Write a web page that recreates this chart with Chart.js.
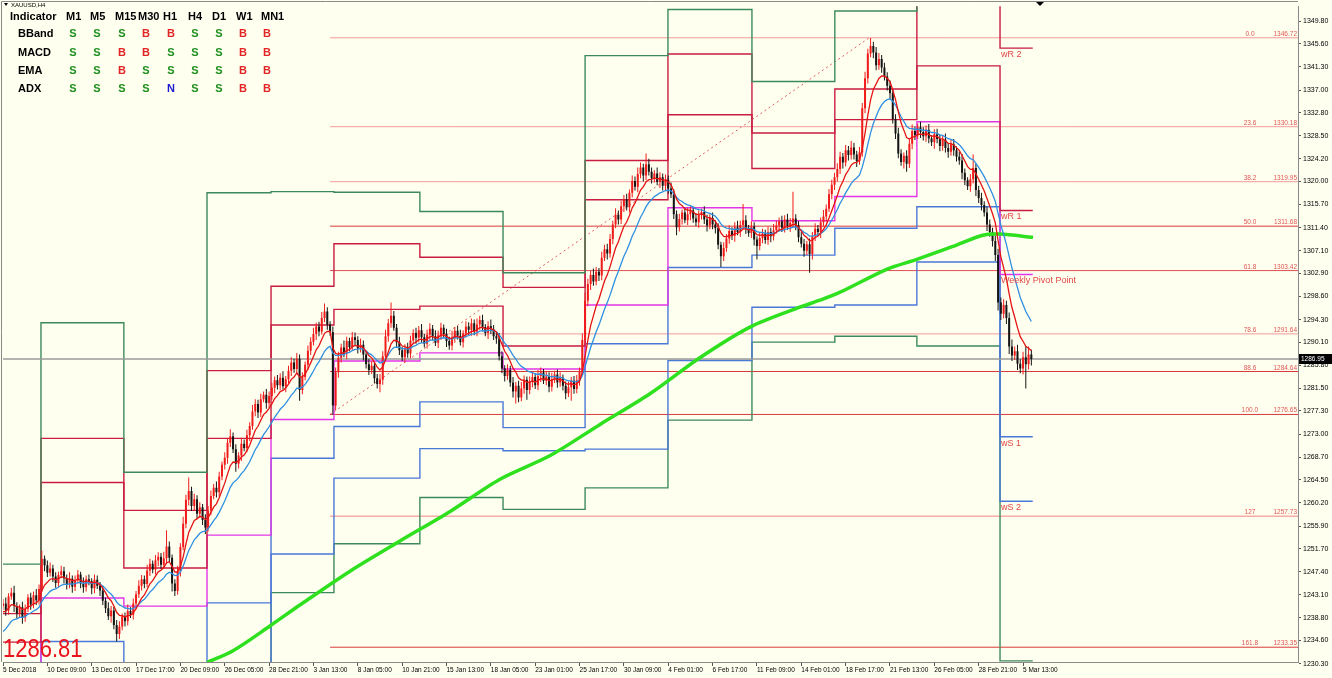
<!DOCTYPE html>
<html>
<head>
<meta charset="utf-8">
<title>XAUUSD,H4</title>
<script src="https://cdn.jsdelivr.net/npm/chart.js@4.4.1/dist/chart.umd.min.js"></script>
<style>
  html, body { margin: 0; padding: 0; background: #fffff0; overflow: hidden; }
  canvas { display: block; }
</style>
</head>
<body>
<canvas id="xauChart" width="1332" height="678"></canvas>
<script>
// XAUUSD H4: candles, EMAs, 200 MA, weekly pivots, Fibonacci levels, signal table

var firstOpen = 1241.0;
var closes = [
  1241.5,1240.2,1242.8,1243.5,1241.0,1239.6,1240.8,1238.9,1240.5,1242.6,1241.3,1243.0,1242.1,1244.2,
  1249.8,1248.6,1247.2,1248.0,1246.5,1245.3,1246.8,1247.5,1246.2,
  1245.0,1246.1,1244.6,1245.8,1246.9,1245.2,1244.5,1246.0,1245.6,1244.3,1245.9,1244.8,1243.9,
  1242.0,1240.6,1239.1,1240.2,1237.5,1235.8,1237.2,
  1239.0,1238.2,1240.1,1239.4,
  1241.5,1243.2,1244.8,1246.0,1245.1,1247.6,
  1248.9,1247.8,1249.5,1250.2,1248.7,1249.9,1252.1,1250.0,
  1245.2,1243.8,
  1247.5,1252.0,1256.3,1260.8,1262.4,
  1259.6,1260.9,1258.2,1259.4,1257.0,1255.6,
  1258.8,1261.5,1263.0,1262.2,1265.1,1267.3,1268.6,
  1271.4,1272.6,
  1270.2,1267.5,1269.0,1271.2,1270.4,1272.8,1274.5,
  1277.2,1278.6,1277.0,1279.5,1280.3,1278.8,1280.1,
  1281.6,1283.0,1282.1,1283.5,1281.9,1283.2,1284.8,
  1286.3,1285.1,1287.0,1281.2,1283.6,1285.9,
  1288.5,1290.2,1291.6,1293.0,1292.1,1294.6,1295.8,
  1293.4,1292.0,
  1278.3,
  1284.5,1287.2,1289.1,1288.0,
  1290.3,1289.2,1291.0,1290.5,1288.9,1289.6,
  1287.8,1286.0,1284.9,1285.7,1283.4,1282.3,1283.1,
  1287.5,1291.2,1293.6,1295.0,1292.8,
  1290.1,1288.6,1287.3,1288.9,1288.0,
  1290.4,1291.8,1290.9,1292.3,1291.0,1289.8,1291.5,1292.6,1291.2,
  1290.0,1291.4,1292.8,1291.6,1290.3,1289.5,1291.0,1292.2,1291.3,1290.1,1291.7,1293.0,1292.4,
  1293.6,1292.1,1293.4,1294.2,1292.9,1291.8,1293.1,1292.5,
  1291.2,1290.8,
  1287.5,1285.2,1283.8,1284.9,
  1282.6,1280.9,1282.0,1279.8,1281.5,1283.1,1281.2,1282.7,1283.6,
  1282.1,1283.8,1284.5,1282.9,1283.7,1281.8,1283.2,1284.1,1282.6,1283.5,
  1282.0,1280.6,1281.7,1282.9,1281.4,1283.0,1284.6,
  1290.5,1297.8,1300.9,1302.6,
  1301.4,1303.2,1302.5,
  1305.8,1307.4,1306.6,1309.3,
  1312.0,1313.8,1312.9,1315.4,1316.6,1315.2,1317.9,
  1320.1,1319.0,1321.4,1322.6,1321.1,1323.2,1321.8,1320.6,
  1321.5,1319.9,1320.8,1319.2,1320.3,1318.7,1317.6,
  1313.9,1311.5,1313.0,
  1314.2,1312.8,1313.9,1314.6,1313.1,1312.4,1313.8,1314.3,
  1312.9,1311.8,1313.2,1312.0,1311.3,
  1308.2,1306.1,1307.6,
  1309.4,1310.8,1309.9,1311.5,1310.6,1311.9,1312.8,1311.2,
  1310.4,1311.6,1309.2,1308.0,
  1309.5,1310.3,1309.1,1310.6,1309.8,1310.9,
  1311.8,1312.6,1311.4,1312.9,1311.7,1312.3,1313.1,1311.9,
  1309.6,1308.4,1307.1,1308.3,1306.5,
  1309.8,1311.2,1310.6,1312.4,1313.5,1314.9,
  1317.6,1319.4,1320.8,1322.3,
  1324.6,1323.5,1325.8,1324.9,1326.3,1325.0,1323.8,1325.4,
  1333.6,1339.2,
  1343.8,1345.2,1344.0,
  1341.6,1342.8,1341.2,
  1339.5,1337.8,1336.4,
  1331.6,1328.9,
  1325.2,1323.6,1324.8,1323.3,
  1327.0,1329.4,1328.6,1330.1,1329.2,
  1328.4,1329.6,1328.0,1327.3,1328.8,1327.9,1326.6,
  1327.8,1326.2,1325.5,1326.9,1325.8,1324.6,1323.9,
  1321.6,1320.2,1319.1,1320.4,1322.5,
  1318.4,1316.9,1315.6,1314.2,
  1312.0,1310.6,1308.9,1306.3,
  1297.5,
  1295.4,1297.0,1294.6,
  1289.3,1287.6,1288.4,1286.1,
  1285.2,1287.3,1286.0,1287.8,1286.95
];
var upWick = [
  0.8,1.1,0.6,0.9,1.3,0.7,0.5,1.0,0.8,0.6, 0.9,0.7,1.2,0.8,1.5,0.6,0.9,1.1,0.7,0.8,
  0.6,1.0,0.8,0.7,1.2,0.6,0.9,0.8,0.5,1.1, 0.7,0.9,0.6,1.0,0.8,0.7,0.9,0.6,1.1,0.8,
  0.7,0.9,1.0,0.6,0.8,1.2,0.7,0.9,0.6,1.0, 0.8,0.7,1.1,0.9,0.6,1.0,0.8,0.7,1.2,3.0,
  0.9,0.6,0.8,1.0,0.7,1.3,0.9,2.5,0.8,1.0, 0.7,0.9,0.6,1.1,0.8,1.0,0.7,1.2,0.9,0.6,
  1.0,0.8,1.3,0.7,0.9,0.6,1.1,0.8,1.0,0.7, 1.2,0.9,0.8,1.0,0.6,1.1,0.8,0.9,0.7,1.0,
  0.8,1.2,0.6,0.9,1.0,0.7,1.1,0.8,0.9,0.6, 1.0,0.8,1.2,0.7,0.9,1.1,1.5,0.8,0.6,1.0,
  0.9,1.1,0.7,1.3,0.8,0.6,1.0,0.9,0.7,1.2, 0.8,0.6,1.0,0.9,0.7,0.8,1.1,0.9,1.2,0.8,
  2.5,0.9,0.7,1.0,0.6,0.8,1.1,0.9,0.7,1.0, 0.8,1.2,0.6,0.9,1.0,0.7,1.1,0.8,0.9,0.6,
  1.0,0.8,1.2,0.7,0.9,1.1,0.6,1.0,0.8,0.9, 0.7,1.1,0.8,1.0,0.6,0.9,1.2,0.8,0.7,1.0,
  0.9,0.6,1.1,0.8,1.0,0.7,0.9,1.2,0.8,0.6, 1.0,0.8,0.7,1.1,0.9,0.6,1.0,0.8,1.2,0.7,
  0.9,1.0,0.6,0.8,1.1,0.7,0.9,1.0,0.8,1.2, 1.5,1.0,0.8,1.2,0.9,0.7,1.1,0.8,1.0,0.9,
  0.7,1.2,0.8,1.0,0.9,1.1,0.6,1.0,0.8,1.2, 0.9,0.7,2.0,1.0,0.8,0.6,1.1,0.9,0.7,1.0,
  0.8,1.1,0.9,0.7,1.0,0.6,0.9,1.2,0.8,0.7, 1.0,0.8,0.6,1.1,0.9,0.7,1.0,0.8,0.9,0.6,
  1.1,0.8,1.0,0.7,0.9,1.2,0.8,3.0,0.9,0.7, 1.0,0.8,0.6,1.1,0.9,0.7,1.0,0.8,1.2,0.9,
  0.7,1.0,0.8,1.1,0.9,5.0,0.8,0.7,1.0,0.9, 0.6,1.1,0.8,1.0,0.7,0.9,1.2,0.8,1.0,0.9,
  0.8,1.1,0.9,0.7,1.0,0.8,1.2,0.9,0.7,1.0, 1.0,1.2,0.9,1.5,0.8,1.0,1.1,0.7,0.9,0.8,
  1.0,0.7,0.9,1.1,0.8,0.6,1.0,0.9,1.2,0.8, 0.7,1.0,0.9,0.8,1.1,0.6,0.9,1.0,0.8,0.7,
  1.1,0.9,0.8,1.0,0.7,0.9,1.2,0.8,0.6,1.0, 2.5,0.9,0.8,1.0,0.7,1.1,0.9,0.8,1.0,1.2,
  0.9,1.1,0.8,1.0,1.3,0.9,1.2,0.8,1.0,2.0, 1.5,0.9
];
var dnWick = [
  0.7,1.0,0.8,0.6,1.1,0.9,0.7,1.2,0.8,0.6, 1.0,0.7,0.9,0.8,0.6,1.1,0.8,0.7,1.0,0.9,
  0.8,0.6,1.0,0.9,0.7,1.1,0.8,0.6,0.9,1.0, 0.8,0.7,1.1,0.9,0.6,1.0,0.8,0.9,0.7,1.2,
  0.8,1.4,0.9,0.7,1.0,0.8,0.6,0.9,1.1,0.7, 0.9,0.8,0.6,1.0,0.7,0.9,1.1,0.8,0.6,1.0,
  0.8,1.5,0.9,0.7,1.0,0.6,0.8,1.1,0.9,0.7, 1.0,0.8,0.9,1.2,0.7,0.9,0.6,1.0,0.8,0.7,
  0.9,1.1,0.8,0.7,1.5,0.9,1.0,0.6,0.8,1.1, 0.7,0.9,1.0,0.8,0.6,1.1,0.9,0.7,1.0,0.8,
  0.9,0.6,1.1,0.8,1.0,0.7,0.9,2.0,0.8,0.6, 1.0,0.8,0.7,1.1,0.9,0.6,0.8,1.0,0.7,1.65,
  0.8,1.0,0.9,0.7,1.1,0.8,0.6,1.0,0.9,0.7, 1.1,0.8,0.9,0.7,1.0,0.8,1.5,0.9,0.7,1.0,
  0.8,0.6,1.1,0.9,0.7,1.0,0.8,0.9,0.6,1.1, 0.8,1.0,0.7,0.9,1.1,0.8,0.6,1.0,0.9,0.7,
  1.1,0.8,0.9,1.0,0.7,0.6,1.0,0.8,0.9,1.1, 0.7,0.9,1.0,0.8,0.6,1.1,0.9,0.7,1.0,0.8,
  0.9,1.0,0.7,0.8,1.1,2.2,0.9,0.7,1.0,1.8, 0.8,1.0,0.7,0.9,1.1,0.6,0.8,1.0,0.9,0.7,
  1.0,0.8,0.9,1.1,0.7,2.5,0.9,0.8,1.0,0.7, 0.9,1.0,1.1,0.8,0.7,1.0,0.9,0.6,1.1,0.8,
  1.0,0.7,0.9,0.8,1.1,0.6,1.0,0.9,0.7,1.0, 0.8,1.1,0.9,0.7,1.0,0.8,0.6,1.1,0.9,0.8,
  1.0,0.7,0.9,1.5,0.8,1.0,0.6,0.9,1.1,0.8, 0.7,1.0,0.9,0.8,1.1,0.7,0.9,1.0,0.8,2.0,
  0.9,0.7,1.0,0.8,1.1,0.6,0.9,0.8,1.0,0.7, 0.9,1.1,2.5,0.8,1.0,0.7,0.9,1.1,0.8,0.6,
  1.0,0.8,0.9,0.7,1.1,0.8,1.0,0.9,0.7,1.1, 0.8,3.5,1.0,0.9,0.7,1.1,0.8,1.0,0.6,0.9,
  1.0,0.8,0.9,1.1,0.7,1.0,0.8,0.9,1.1,0.7, 0.8,0.9,1.0,0.7,1.1,0.9,0.8,1.0,0.7,0.9,
  1.1,0.8,1.0,0.9,0.7,1.2,1.5,0.8,1.0,0.9, 0.7,1.1,0.8,1.0,0.9,0.7,1.2,0.8,1.0,0.9,
  0.8,1.1,0.7,1.0,0.9,0.8,1.2,0.9,0.7,1.0, 0.8,1.1,0.9,1.0,0.7,1.2,0.9,1.0,1.1,1.5,
  1.2,0.9,1.1,1.4,1.0,0.8,1.2,0.9,1.1,4.5, 1.0,1.2
];

// moving averages: red and blue from the closes, green (long MA)
var redPeriod = 8, redSeed = 1239.5;
var bluePeriod = 16, blueSeed = 1235.6;
var greenBars = [73.6, 83, 96.3, 107.1, 125.2, 143.2, 161.3, 179.3, 197.4, 215.4, 233.4, 251.4, 269.5, 287.5, 294.7, 302, 319, 329.7, 342.7, 353.5, 359.7, 371.6];
var greenVals = [1230.5, 1232.7, 1237.3, 1241.2, 1247.5, 1253.1, 1258.6, 1264.6, 1269.0, 1274.8, 1280.5, 1287.2, 1292.9, 1296.6, 1297.9, 1299.4, 1303.7, 1305.5, 1307.9, 1310.0, 1310.2, 1309.6];

// weekly pivots, one value per week
var weekStarts = [0, 13.7, 43.6, 73.6, 96.7, 119.4, 150.4, 180.4, 210.0, 239.9, 270.2, 300.1, 329.7, 359.7];
var weekEnd = 371.5;
var r3 = [1248.8, 1293.7, 1265.9, 1317.9, 1318.1, 1318.0, 1314.4, 1303.0, 1343.4, 1352.0, 1338.6, 1351.7, 1365.0, 1356.7];
var r2 = [1239.6, 1272.2, 1258.8, 1284.8, 1300.5, 1308.4, 1305.9, 1300.3, 1323.9, 1343.7, 1329.0, 1337.2, 1357.3, 1344.8];
var r1 = [1234.3, 1264.0, 1248.1, 1272.2, 1293.3, 1296.2, 1296.8, 1289.4, 1316.6, 1332.4, 1322.4, 1331.5, 1341.5, 1314.6];
var pp = [1225.0, 1242.5, 1241.0, 1254.2, 1275.7, 1286.6, 1288.1, 1285.1, 1297.0, 1315.1, 1312.7, 1317.2, 1331.1, 1302.7];
var s1 = [1215.0, 1234.4, 1230.3, 1241.6, 1268.5, 1274.4, 1279.0, 1274.2, 1289.8, 1304.0, 1306.3, 1311.3, 1315.3, 1272.5];
var s2 = [1205.0, 1212.9, 1223.2, 1223.6, 1250.7, 1264.8, 1270.3, 1269.9, 1270.2, 1286.7, 1296.6, 1297.0, 1305.0, 1260.5];
var s3 = [1195.0, 1190.0, 1205.0, 1211.0, 1243.5, 1252.6, 1261.2, 1259.0, 1263.0, 1275.6, 1290.1, 1291.2, 1289.4, 1230.8];
var pivotNames = ['wR 2', 'wR 1', 'Weekly Pivot Point', 'wS 1', 'wS 2'];

// Fibonacci retracement
var fibNames = ['0.0', '23.6', '38.2', '50.0', '61.8', '78.6', '88.6', '100.0', '127', '161.8'];
var fibPrices = [1346.72, 1330.18, 1319.95, 1311.68, 1303.42, 1291.64, 1284.64, 1276.65, 1257.73, 1233.35];
var fibStartBar = 118;
var fibSwing = [{x: 118, y: 1276.65}, {x: 312.5, y: 1346.72}];

var lastPrice = 1286.95;
var bidPrice = '1286.81';

var xLabels = ['5 Dec 2018', '10 Dec 09:00', '13 Dec 01:00', '17 Dec 17:00', '20 Dec 09:00', '26 Dec 05:00',
  '28 Dec 21:00', '3 Jan 13:00', '8 Jan 05:00', '10 Jan 21:00', '15 Jan 13:00', '18 Jan 05:00', '23 Jan 01:00',
  '25 Jan 17:00', '30 Jan 09:00', '4 Feb 01:00', '6 Feb 17:00', '11 Feb 09:00', '14 Feb 01:00', '18 Feb 17:00',
  '21 Feb 13:00', '26 Feb 05:00', '28 Feb 21:00', '5 Mar 13:00'];
var barsPerLabel = 16;
var yTicks = [1349.80, 1345.60, 1341.30, 1337.00, 1332.80, 1328.50, 1324.20, 1320.00, 1315.70, 1311.40, 1307.10,
  1302.90, 1298.60, 1294.30, 1290.10, 1285.80, 1281.50, 1277.30, 1273.00, 1268.70, 1264.50, 1260.20, 1255.90,
  1251.70, 1247.40, 1243.10, 1238.80, 1234.60, 1230.30];

// signal table
var tableCols = ['M1', 'M5', 'M15', 'M30', 'H1', 'H4', 'D1', 'W1', 'MN1'];
var tableRows = ['BBand', 'MACD', 'EMA', 'ADX'];
var bbandSig = ['S', 'S', 'S', 'B', 'B', 'S', 'S', 'B', 'B'];
var macdSig = ['S', 'S', 'B', 'B', 'S', 'S', 'S', 'B', 'B'];
var emaSig = ['S', 'S', 'B', 'S', 'S', 'S', 'S', 'B', 'B'];
var adxSig = ['S', 'S', 'S', 'S', 'N', 'S', 'S', 'B', 'B'];

(function(){
  var FONT = '"Liberation Sans", Arial, sans-serif';
  var xMax = 467.2, yMin = 1230.6, yMax = 1352.6;

  function ema(src, period, seed) {
    var k = 2 / (period + 1), prev = seed;
    return src.map(function(v, i){ prev = prev + k * (v - prev); return {x: i, y: prev}; });
  }
  function stepData(vals) {
    var d = weekStarts.map(function(b, i){ return {x: b, y: vals[i]}; });
    d.push({x: weekEnd, y: vals[vals.length - 1]});
    return d;
  }
  function stepLine(vals, color) {
    return {type: 'line', data: stepData(vals), borderColor: color, borderWidth: 1.4,
      pointRadius: 0, stepped: true, order: 6};
  }

  var opens = closes.map(function(c, i){ return i === 0 ? firstOpen : closes[i - 1]; });
  var candleColors = closes.map(function(c, i){ return c >= opens[i] ? '#f01c1c' : '#141414'; });
  var wickData = closes.map(function(c, i){
    return {x: i, y: [Math.min(opens[i], c) - dnWick[i], Math.max(opens[i], c) + upWick[i]]};
  });
  var bodyData = closes.map(function(c, i){ return {x: i, y: [opens[i], c]}; });

  var fibColors = ['#f29a9a', '#f29a9a', '#f29a9a', '#d83a3a', '#e05050', '#f29a9a', '#d83a3a', '#d83a3a', '#f08080', '#d83a3a'];
  var datasets = [];
  fibPrices.forEach(function(p, i){
    datasets.push({type: 'line', data: [{x: fibStartBar, y: p}, {x: xMax, y: p}], borderColor: fibColors[i],
      borderWidth: 1, pointRadius: 0, order: 8});
  });
  datasets.push({type: 'line', data: fibSwing, borderColor: '#e06060', borderWidth: 1, borderDash: [2, 3], pointRadius: 0, order: 8});
  datasets.push(stepLine(r3, '#3c8a5c'));
  datasets.push(stepLine(r2, '#c81c40'));
  datasets.push(stepLine(r1, '#c81c40'));
  datasets.push(stepLine(pp, '#e236e6'));
  datasets.push(stepLine(s1, '#4a78d6'));
  datasets.push(stepLine(s2, '#4a78d6'));
  datasets.push(stepLine(s3, '#3c8a5c'));
  datasets.push({type: 'line', data: [{x: 0, y: lastPrice}, {x: xMax, y: lastPrice}], borderColor: '#9a9a9a',
    borderWidth: 1.5, pointRadius: 0, order: 5});
  datasets.push({type: 'bar', data: wickData, backgroundColor: candleColors, grouped: false, maxBarThickness: 1, order: 3});
  datasets.push({type: 'bar', data: bodyData, backgroundColor: candleColors, grouped: false, maxBarThickness: 2.5,
    minBarLength: 1, order: 2});
  datasets.push({type: 'line', data: greenBars.map(function(b, i){ return {x: b, y: greenVals[i]}; }),
    borderColor: '#2ee01e', borderWidth: 3.5, pointRadius: 0, tension: 0.3, order: 1.5});
  datasets.push({type: 'line', data: ema(closes, bluePeriod, blueSeed), borderColor: '#2f8fe0', borderWidth: 1.3, pointRadius: 0, order: 1});
  datasets.push({type: 'line', data: ema(closes, redPeriod, redSeed), borderColor: '#e41414', borderWidth: 1.3, pointRadius: 0, order: 0});

  var overlay = {
    id: 'overlay',
    beforeDraw: function(chart){
      var c = chart.ctx;
      c.save(); c.fillStyle = '#fffff0'; c.fillRect(0, 0, chart.width, chart.height); c.restore();
    },
    afterDatasetsDraw: function(chart){
      var c = chart.ctx, xs = chart.scales.x, ys = chart.scales.y, a = chart.chartArea;
      c.save();
      // fib labels
      c.font = '6.5px ' + FONT; c.fillStyle = '#e05656'; c.textBaseline = 'bottom';
      fibPrices.forEach(function(p, i){
        var py = Math.round(ys.getPixelForValue(p));
        c.textAlign = 'center'; c.fillText(fibNames[i], 1250, py - 0.5);
        c.textAlign = 'right'; c.fillText(p.toFixed(2), a.right - 1, py - 0.5);
      });
      // pivot labels of the current week
      var last = weekStarts.length - 1;
      var lx = xs.getPixelForValue(weekStarts[last]) + 1;
      var labelVals = [r2[last], r1[last], pp[last], s1[last], s2[last]];
      c.font = '9px ' + FONT; c.fillStyle = '#e04646'; c.textAlign = 'left'; c.textBaseline = 'top';
      pivotNames.forEach(function(n, i){ c.fillText(n, lx, ys.getPixelForValue(labelVals[i]) + 2); });
      // big bid price
      c.save();
      c.translate(3, 657); c.scale(0.88, 1);
      c.font = '25px ' + FONT; c.fillStyle = '#e8141c'; c.textBaseline = 'alphabetic';
      c.fillText(bidPrice, 0, 0);
      c.restore();
      c.restore();
    },
    afterDraw: function(chart){
      var c = chart.ctx, ys = chart.scales.y, a = chart.chartArea;
      c.save();
      // frame
      c.strokeStyle = '#8a8a8a'; c.lineWidth = 1;
      c.beginPath(); c.moveTo(1.5, a.bottom); c.lineTo(1.5, 1.5); c.lineTo(a.right, 1.5); c.stroke();
      // last price box
      var py = Math.round(ys.getPixelForValue(lastPrice));
      c.fillStyle = '#000'; c.fillRect(a.right + 1, py - 5, 33, 10);
      c.fillStyle = '#fff'; c.font = '6.5px ' + FONT; c.textAlign = 'left'; c.textBaseline = 'middle';
      c.fillText(lastPrice.toFixed(2), a.right + 3, py);
      // chart shift marker
      c.fillStyle = '#000';
      c.beginPath(); c.moveTo(1036, 2); c.lineTo(1044, 2); c.lineTo(1040, 6); c.closePath(); c.fill();
      // title
      c.beginPath(); c.moveTo(4, 3); c.lineTo(8, 3); c.lineTo(6, 6); c.closePath(); c.fill();
      c.font = '6px ' + FONT; c.textBaseline = 'top'; c.fillText('XAUUSD,H4', 11, 2);
      // signal table
      var colX = [66, 90, 115, 138, 163, 188, 212, 236, 261];
      var sigX = [73, 97, 122, 146, 171, 195, 219, 243, 267];
      var rowY = [34, 53, 71, 89];
      var sigs = [bbandSig, macdSig, emaSig, adxSig];
      var sigColor = {S: '#1f8f1f', B: '#e22424', N: '#1a1ad0'};
      c.font = 'bold 11px ' + FONT; c.textBaseline = 'middle'; c.fillStyle = '#000'; c.textAlign = 'left';
      c.fillText('Indicator', 10, 17);
      tableCols.forEach(function(t, i){ c.fillText(t, colX[i], 17); });
      tableRows.forEach(function(r, j){
        c.fillStyle = '#000'; c.textAlign = 'left'; c.fillText(r, 18, rowY[j]);
        c.textAlign = 'center';
        sigs[j].forEach(function(s, i){ c.fillStyle = sigColor[s]; c.fillText(s, sigX[i], rowY[j]); });
      });
      c.restore();
    }
  };

  new Chart(document.getElementById('xauChart').getContext('2d'), {
    type: 'bar',
    data: {datasets: datasets},
    options: {
      responsive: false,
      animation: false,
      devicePixelRatio: 1,
      layout: {padding: {left: 3, top: 3, right: 0, bottom: 0}},
      plugins: {legend: {display: false}, tooltip: {enabled: false}},
      scales: {
        x: {
          type: 'linear', min: 0, max: xMax, offset: false,
          afterBuildTicks: function(s){ s.ticks = xLabels.map(function(l, i){ return {value: i * barsPerLabel}; }); },
          afterFit: function(s){ s.height = 16; },
          ticks: {autoSkip: false, maxRotation: 0, minRotation: 0, align: 'start', padding: 0, color: '#000',
            font: {family: FONT, size: 6.5},
            callback: function(v){ return xLabels[Math.round(v / barsPerLabel)]; }},
          grid: {drawOnChartArea: false, drawTicks: true, tickLength: 4, color: '#555', offset: false},
          border: {display: true, color: '#8a8a8a'}
        },
        y: {
          position: 'right', min: yMin, max: yMax,
          afterBuildTicks: function(s){ s.ticks = yTicks.map(function(v){ return {value: v}; }); },
          afterFit: function(s){ s.width = 34; },
          ticks: {color: '#000', padding: 2, font: {family: FONT, size: 7},
            callback: function(v){ return Number(v).toFixed(2); }},
          grid: {drawOnChartArea: false, drawTicks: true, tickLength: 3, color: '#555'},
          border: {display: true, color: '#8a8a8a'}
        }
      }
    },
    plugins: [overlay]
  });
})();
</script>
</body>
</html>
